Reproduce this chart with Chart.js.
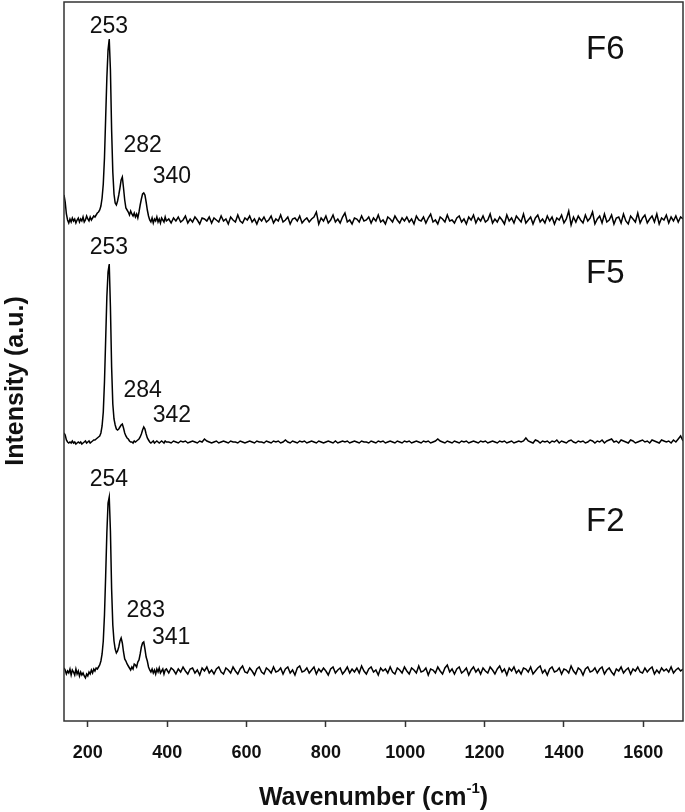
<!DOCTYPE html>
<html>
<head>
<meta charset="utf-8">
<script src="https://cdn.jsdelivr.net/npm/chart.js@4.4.1/dist/chart.umd.min.js"></script>
<style>
    html, body { margin: 0; padding: 0; background: #fff; }
    #wrap { width: 685px; height: 812px; }
</style>
</head>
<body>
<div id="wrap"><canvas id="spectraChart" width="685" height="812"></canvas></div>
<script>
// Sampling grid (cm-1): finer over the peak region, coarser over the flat baseline
const wavenumbers = [];
for (let w = 140; w <= 398; w += 3) wavenumbers.push(w);
for (let w = 404; w <= 1700; w += 6) wavenumbers.push(w);

const tickValues = [200, 400, 600, 800, 1000, 1200, 1400, 1600];
const seriesNames = ['F6', 'F5', 'F2'];

// Intensity above each trace's own baseline (a.u.)
const intensityF6 = [
    25, 18, 6, 0, -3, 1, -2, 2, -1, 1,
    -3, 0, 2, -2, 1, -1, 3, -2, 0, 4,
    1, -1, 3, 0, 2, 4, 3, 5, 7, 8,
    10, 14, 22, 36, 62, 102, 142, 170, 181, 150,
    90, 48, 26, 17, 15, 19, 25, 32, 40, 43,
    32, 20, 12, 10, 8, 5, 9, 6, 4, 7,
    3, 6, 2, 8, 15, 21, 26, 27, 25, 18,
    10, 4, 0, -2, 2, -3, 1, -1, 3, -2,
    1, -3, 2, 0, -2, 3, -1,
    1, -3, 2, -1, 3, -2, 0, 4, -3, 1, -2, 3, 0, -4, 2, 1, -1, 3, -3, 2,
    0, -2, 4, -1, 1, -4, 3, 0, -2, 5, -1, -3, 2, 0, 4, -2, 1, -4, 2, -1,
    3, -2, 0, 4, -3, 1, -1, 5, -2, 0, 3, -4, 1, 2, -1, 4, -3, 0, 2, -2,
    1, 3, 8, -4, 2, -1, 4, -3, 0, 5, -2, 1, -3, 3, 7, -2, 0, -4, 2, 1,
    -2, 4, -1, 0, 3, -3, 2, -1, 5, -2, 0, -4, 3, 1, -2, 4, 0, -3, 2, -1,
    3, -2, 1, -4, 4, 0, -1, 3, -3, 2, 6, -2, 0, -4, 3, 1, -2, 5, -1, 0,
    -3, 2, 4, -2, 1, -4, 3, 0, 5, -3, 2, -1, 4, -2, 0, 6, -3, 1, -2, 3,
    0, -4, 5, -1, 2, -3, 4, 1, -2, 6, -3, 0, 3, -4, 2, 5, -2, 1, -3, 4,
    -1, 3, -4, 2, 0, 5, -3, 1, 9, -5, 3, -2, 4, 0, -3, 5, -1, 2, 8, -4,
    1, 4, -3, 6, -2, 0, 5, -4, 2, 3, -3, 6, -1, -4, 4, 1, -2, 7, -3, 2,
    5, -3, 1, 4, -2, 6, -4, 2, 0, 5, -3, 3, -1, 4, -2, 3, 1
];

const intensityF5 = [
    9, 7, 2, 0, -1, 0, -1, 1, -1, 0,
    -2, -1, 0, -1, 0, -2, -1, 0, 1, -1,
    0, 1, -1, 0, 1, 2, 2, 3, 4, 5,
    6, 9, 16, 30, 60, 102, 145, 170, 178, 135,
    75, 38, 23, 17, 13, 12, 13, 15, 17, 18,
    14, 9, 6, 4, 3, 1, 0, 0, -1, 1,
    0, 1, 2, 3, 5, 8, 12, 15, 13, 8,
    4, 2, 0, -1, 0, 1, -1, 0, 1, 0,
    -1, 0, 1, 0, -1, 1, 0,
    0, -1, 1, 0, -1, 1, 0, 1, -1, 0, 1, 0, -1, 1, 0, 3, 1, 0, -1, 0,
    1, -1, 0, 1, 0, -1, 1, 0, 0, -1, 1, 0, -1, 0, 1, 0, -1, 1, 0, 0,
    -1, 1, 0, -1, 1, 0, 1, -1, 0, 2, 0, -1, 1, 0, -1, 1, 0, 1, -1, 0,
    1, 0, -1, 1, 0, -1, 0, 1, 0, -1, 1, -1, 0, 1, 0, 1, -1, 0, 1, 0,
    -1, 1, 0, 0, -1, 1, 0, -1, 1, 0, 1, -1, 0, 1, 0, -1, 1, 0, -1, 1,
    0, 1, -1, 0, 1, 0, -1, 1, 0, 1, -1, 0, 1, 3, 1, 0, -1, 1, 0, -1,
    1, 0, -1, 1, 0, 1, -1, 0, 1, 0, -1, 1, 0, 1, -1, 0, 1, 0, -1, 1,
    0, 1, -1, 0, 1, -1, 0, 1, 0, 1, 4, 1, 0, -1, 2, 1, -1, 1, 0, 1,
    -1, 1, 0, 2, -1, 1, 0, -1, 1, 2, 0, -1, 1, 0, 1, -1, 0, 2, 1, -1,
    1, 0, 2, -1, 1, 2, 3, 0, 1, -1, 2, 1, 0, -1, 2, 1, -1, 0, 1, 2,
    0, 1, -1, 2, 1, 0, -1, 2, 1, 0, 1, -1, 2, 0, 3, 6, 1
];

const intensityF2 = [
    3, 1, -3, 0, -2, 2, -4, 1, -1, -4,
    2, -3, 0, -5, -1, -4, -2, -5, -7, -3,
    -5, -1, -3, 1, -2, 2, 0, 3, 2, 4,
    6, 10, 17, 30, 56, 95, 138, 168, 174, 140,
    82, 46, 30, 22, 18, 20, 24, 30, 33, 28,
    19, 12, 10, 7, 5, 3, 1, 4, 2, 7,
    6, 4, 9, 11, 17, 24, 28, 29, 22, 14,
    10, 4, 1, -1, 2, -2, 1, -3, 2, -1,
    3, -2, 0, 2, -3, 1, 2,
    -2, 3, 1, -3, 2, -1, 4, 0, -3, 2, 3, -2, 1, -4, 3, 0, 4, -2, 1, -3,
    2, 4, -1, -3, 3, 1, -2, 4, 0, -3, 2, 5, -1, -2, 3, 0, -4, 2, 4, -1,
    -3, 3, 1, -2, 4, -1, 0, 3, -3, 2, 4, -2, 1, -4, 3, 5, -1, 0, 3, -2,
    1, 4, -3, 2, -1, 3, 0, -4, 2, 4, -2, 1, 3, -3, 0, 4, -2, 2, -1, 3,
    -2, 5, 0, -3, 2, 4, -1, 1, -4, 3, 0, 2, -2, 4, -1, -3, 3, 1, -2, 4,
    0, -3, 3, 1, -2, 5, -1, 0, 3, -4, 2, 1, -2, 4, 0, -3, 3, 6, -1, 2,
    -3, 2, 4, -2, 0, 3, -4, 1, 4, -1, 2, -3, 3, 0, -2, 4, 1, -3, 2, 5,
    -1, 2, -4, 3, 0, 4, -2, 1, -3, 3, 2, -1, 4, -3, 0, 3, 5, -2, 1, -4,
    2, 4, -1, 0, 3, -3, 2, 1, -2, 5, 0, -3, 3, 1, -4, 2, 4, -1, 0, 3,
    -2, 2, 4, -3, 1, 3, -1, -4, 2, 0, 4, -2, 1, 3, -3, 2, 0, 4, -1, -2,
    3, -1, 2, 4, -3, 1, -2, 3, 0, 2, -1, 4, -2, 1, 3, 0, 2
];

const peakLabelsF6 = ['253', '282', '340'];
const peakLabelsF5 = ['253', '284', '342'];
const peakLabelsF2 = ['254', '283', '341'];

const intensities = [intensityF6, intensityF5, intensityF2];
const peakLabels = [peakLabelsF6, peakLabelsF5, peakLabelsF2];

// Vertical stacking offsets and where the annotations sit (axis units)
const traceOffsets = [501, 279, 50];
const labelSpots = [
    [[253, 694], [338, 575], [412, 544]],
    [[253, 473], [338, 330], [412, 305]],
    [[253, 241], [346, 110], [410, 83]]
];
const nameSpots = [[1504, 671], [1504, 447], [1504, 199]];

const fontFamily = '"Liberation Sans", Arial, Helvetica, sans-serif';

// Frame, peak labels, sample names and axis titles
const decorPlugin = {
    id: 'decor',
    afterDraw(chart) {
        const { ctx, chartArea: a, scales: { x, y } } = chart;
        ctx.save();

        // box around the plot
        ctx.strokeStyle = '#333';
        ctx.lineWidth = 1.5;
        ctx.strokeRect(a.left, a.top, a.right - a.left, a.bottom - a.top);

        ctx.fillStyle = '#111';
        ctx.textAlign = 'center';
        ctx.textBaseline = 'middle';
        seriesNames.forEach((name, i) => {
            ctx.font = '23px ' + fontFamily;
            peakLabels[i].forEach((txt, j) => {
                const [wn, v] = labelSpots[i][j];
                ctx.fillText(txt, x.getPixelForValue(wn), y.getPixelForValue(v));
            });
            ctx.font = '33px ' + fontFamily;
            ctx.fillText(name, x.getPixelForValue(nameSpots[i][0]), y.getPixelForValue(nameSpots[i][1]));
        });

        // y title
        ctx.font = 'bold 25px ' + fontFamily;
        ctx.save();
        ctx.translate(16, 381);
        ctx.rotate(-Math.PI / 2);
        ctx.fillText('Intensity (a.u.)', 0, 0);
        ctx.restore();

        // x title with superscript
        const main = 'Wavenumber (cm';
        const sup = '-1';
        const tail = ')';
        ctx.font = 'bold 25px ' + fontFamily;
        const wMain = ctx.measureText(main).width;
        const wTail = ctx.measureText(tail).width;
        ctx.font = 'bold 15px ' + fontFamily;
        const wSup = ctx.measureText(sup).width;
        let tx = (a.left + a.right) / 2 - (wMain + wSup + wTail) / 2;
        const ty = 798;
        ctx.textAlign = 'left';
        ctx.font = 'bold 25px ' + fontFamily;
        ctx.fillText(main, tx, ty);
        tx += wMain;
        ctx.font = 'bold 15px ' + fontFamily;
        ctx.fillText(sup, tx, ty - 9);
        tx += wSup;
        ctx.font = 'bold 25px ' + fontFamily;
        ctx.fillText(tail, tx, ty);

        ctx.restore();
    }
};

const ctx = document.getElementById('spectraChart').getContext('2d');
const spectraChart = new Chart(ctx, {
    type: 'line',
    data: {
        datasets: seriesNames.map((name, i) => ({
            label: name,
            data: wavenumbers.map((w, k) => ({ x: w, y: intensities[i][k] + traceOffsets[i] })),
            borderColor: '#000',
            borderWidth: 1.5,
            pointRadius: 0,
            tension: 0,
            fill: false
        }))
    },
    options: {
        responsive: false,
        animation: false,
        layout: {
            padding: { top: 2, right: 2, left: 0, bottom: 0 }
        },
        plugins: {
            legend: { display: false },
            tooltip: { enabled: false }
        },
        scales: {
            x: {
                type: 'linear',
                min: 140,
                max: 1700,
                afterBuildTicks: scale => {
                    scale.ticks = tickValues.map(v => ({ value: v }));
                },
                afterFit: scale => {
                    scale.height = 91;
                },
                ticks: {
                    color: '#111',
                    padding: 15,
                    maxRotation: 0,
                    callback: value => String(value),
                    font: { family: fontFamily, size: 18, weight: 'bold' }
                },
                grid: {
                    display: true,
                    drawOnChartArea: false,
                    drawTicks: true,
                    tickLength: 6,
                    tickColor: '#333',
                    tickWidth: 1.5
                },
                border: { display: false }
            },
            y: {
                min: 0,
                max: 719,
                afterFit: scale => {
                    scale.width = 64;
                },
                ticks: { display: false },
                grid: { display: false },
                border: { display: false }
            }
        }
    },
    plugins: [decorPlugin]
});
</script>
</body>
</html>
